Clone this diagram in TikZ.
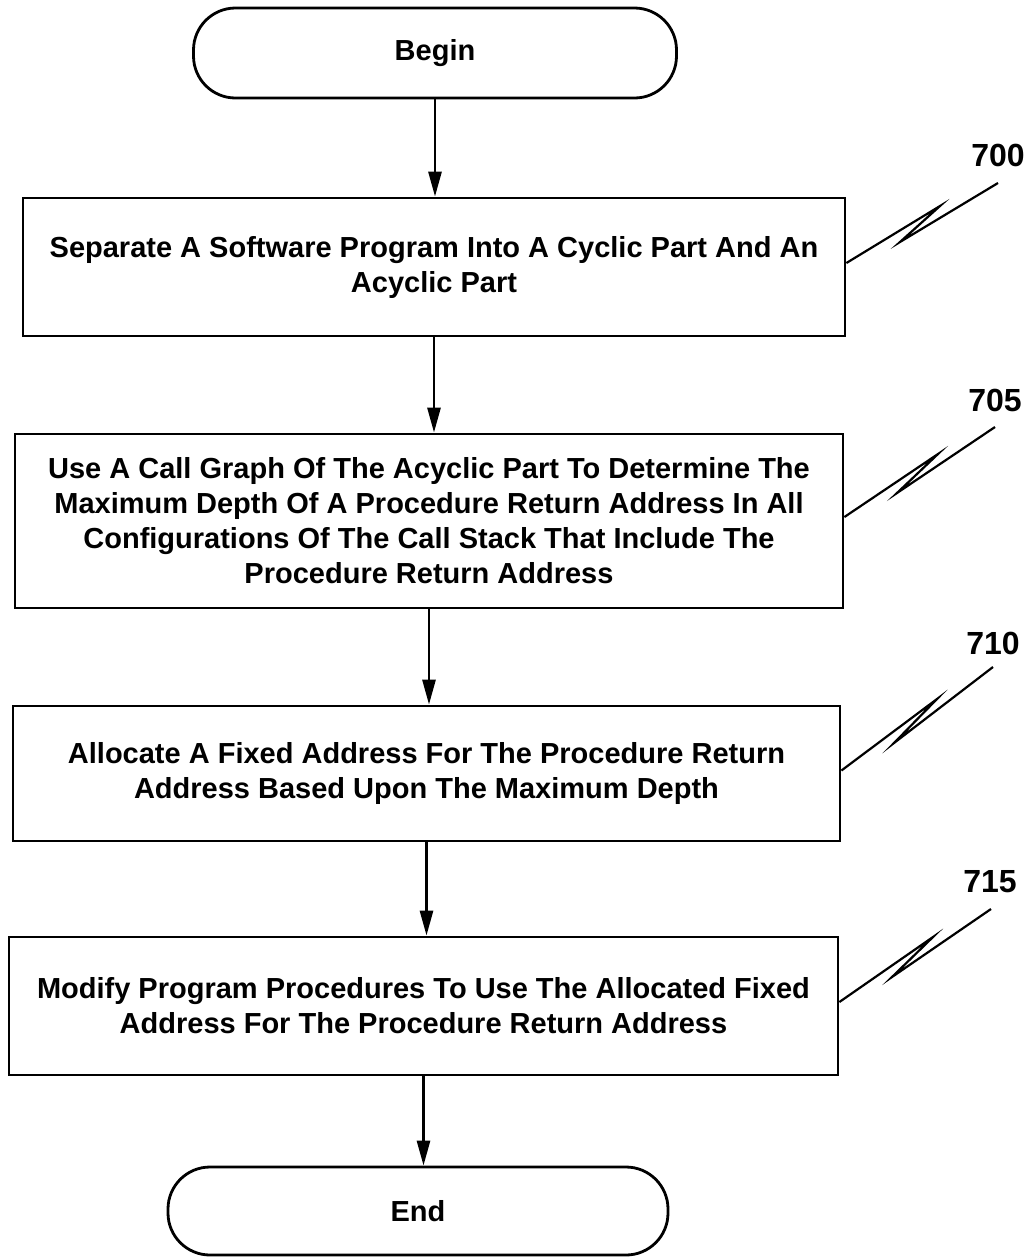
\documentclass[tikz,border=0pt]{standalone}
\usepackage{fontspec}
\setmainfont{Liberation Sans}
\usetikzlibrary{arrows.meta}
\begin{document}
\begin{tikzpicture}[x=0.5pt,y=-0.5pt,
  every node/.style={font=\bfseries\fontsize{14.5pt}{17.5pt}\selectfont, inner sep=0pt},
  stepbox/.style={draw, line width=1.4pt, align=center},
  term/.style={draw, line width=1.4pt, rounded corners=21pt, align=center},
  flow/.style={line width=1.4pt, -{Triangle[length=12.5pt,width=6.5pt]}},
  refnum/.style={font=\bfseries\fontsize{16pt}{19pt}\selectfont},
  squig/.style={line width=1.1pt, line join=miter, miter limit=20}
]
\useasboundingbox (0,0) rectangle (1031,1260);

\node[term, minimum width=241.5pt, minimum height=45pt] (begin) at (435,53) {Begin};

\node[stepbox, minimum width=411pt, minimum height=69pt] (b700) at (434,267)
  {Separate A Software Program Into A Cyclic Part And An\\Acyclic Part};

\node[stepbox, minimum width=414pt, minimum height=87pt] (b705) at (429,521)
  {Use A Call Graph Of The Acyclic Part To Determine The\\
   Maximum Depth Of A Procedure Return Address In All\\
   Configurations Of The Call Stack That Include The\\
   Procedure Return Address};

\node[stepbox, minimum width=413.5pt, minimum height=67.5pt] (b710) at (426.5,773.5)
  {Allocate A Fixed Address For The Procedure Return\\
   Address Based Upon The Maximum Depth};

\node[stepbox, minimum width=414.5pt, minimum height=69pt] (b715) at (423.5,1006)
  {Modify Program Procedures To Use The Allocated Fixed\\
   Address For The Procedure Return Address};

\node[term, minimum width=250pt, minimum height=44pt] (end) at (418,1211) {End};

\draw[flow] (begin.south) -- (begin.south |- b700.north);
\draw[flow] (b700.south) -- (b700.south |- b705.north);
\draw[flow] (b705.south) -- (b705.south |- b710.north);
\draw[flow] (b710.south) -- (b710.south |- b715.north);
\draw[flow] (b715.south) -- (b715.south |- end.north);

\node[refnum] (l700) at (998,155) {700};
\node[refnum] (l705) at (995,400) {705};
\node[refnum] (l710) at (993,643) {710};
\node[refnum] (l715) at (990,882) {715};

\coordinate (e700) at (998,183);
\coordinate (e705) at (995,427);
\coordinate (e710) at (993,667);
\coordinate (e715) at (991,909);

\draw[squig] ([yshift=2pt]b700.east) -- (940,206) -- (900,242) -- (e700);
\draw[squig] ([yshift=2pt]b705.east) -- (938,454) -- (897,493) -- (e705);
\draw[squig] ([yshift=1.5pt]b710.east) -- (937,699) -- (894,743) -- (e710);
\draw[squig] ([yshift=2pt]b715.east) -- (933,937) -- (892,977) -- (e715);
\end{tikzpicture}
\end{document}
